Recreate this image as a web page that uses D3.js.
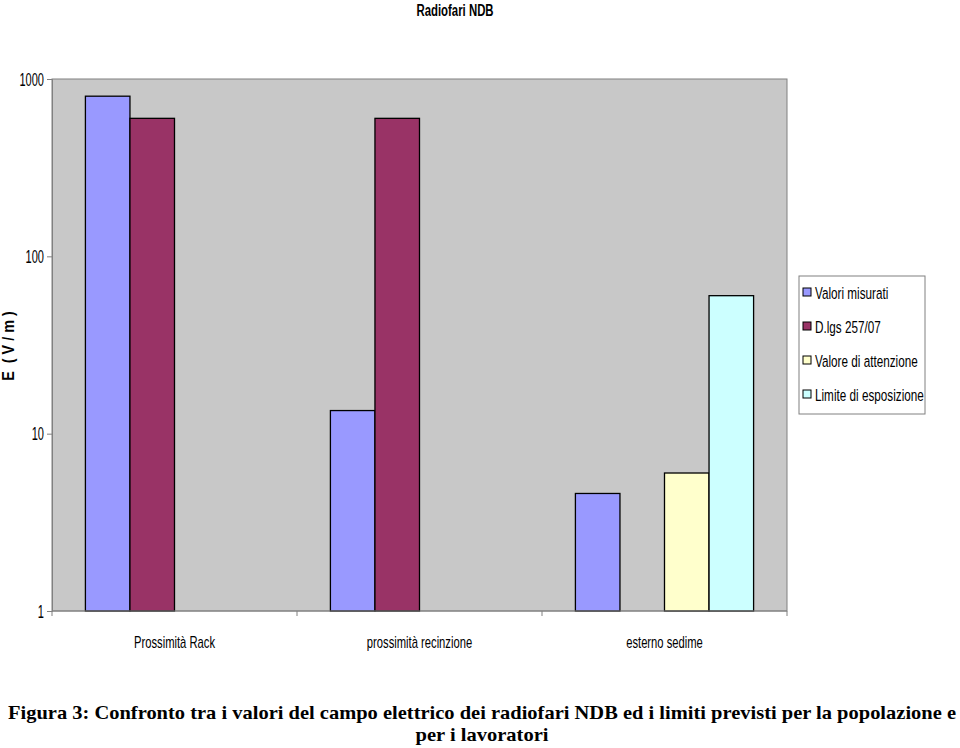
<!DOCTYPE html>
<html>
<head>
<meta charset="utf-8">
<script src="https://cdn.jsdelivr.net/npm/d3@7"></script>
<style>
body { margin: 0; background: #fff; }
</style>
</head>
<body>
<script>
var categories = ["Prossimità Rack", "prossimità recinzione", "esterno sedime"];
var seriesNames = ["Valori misurati", "D.lgs 257/07", "Valore di attenzione", "Limite di esposizione"];
var colors = ["#9999FF", "#993366", "#FFFFCC", "#CCFFFF"];
// null = no bar
var valoriMisurati = [800, 13.5, 4.6];
var dlgs = [600, 600, null];
var valoreAttenzione = [null, null, 6];
var limiteEsposizione = [null, null, 60];
var yTicks = [1, 10, 100, 1000];

(function() {
var series = [valoriMisurati, dlgs, valoreAttenzione, limiteEsposizione];

var w = 960, h = 748;
var sans = "'Liberation Sans', Arial, sans-serif";

var svg = d3.select("body").append("svg")
  .attr("width", w)
  .attr("height", h);

var pl = 52, pr = 787, pt = 79, pb = 611;

// narrow text: Arial Narrow look via horizontal squeeze
function narrowText(g, x, yy, str, size, sx, anchor, weight) {
  var t = g.append("g").attr("transform", "translate(" + x + "," + yy + ") scale(" + sx + ",1)")
    .append("text")
    .attr("text-anchor", anchor || "start")
    .attr("font-family", sans).attr("font-size", size)
    .text(str);
  if (weight) t.attr("font-weight", weight);
  return t;
}

var x0 = d3.scaleBand().domain(categories).range([pl, pr]);
var x1 = d3.scaleBand().domain(d3.range(4)).range([0, x0.bandwidth()]).paddingOuter(0.75);
var y = d3.scaleLog().domain([1, 1000]).range([pb, pt]);

// plot area
svg.append("rect")
  .attr("x", pl).attr("y", pt)
  .attr("width", pr - pl).attr("height", pb - pt)
  .attr("fill", "#C8C8C8")
  .attr("stroke", "#808080").attr("stroke-width", 1);

// bars
series.forEach(function(vals, s) {
  svg.append("g").selectAll("rect")
    .data(vals.map(function(v, i) { return {v: v, c: categories[i]}; }).filter(function(d) { return d.v != null; }))
    .enter().append("rect")
    .attr("x", function(d) { return x0(d.c) + x1(s); })
    .attr("y", function(d) { return y(d.v); })
    .attr("width", x1.bandwidth())
    .attr("height", function(d) { return pb - y(d.v); })
    .attr("fill", colors[s])
    .attr("stroke", "#000").attr("stroke-width", 1.3);
});

// y axis
var yAxis = svg.append("g")
  .attr("transform", "translate(" + pl + ",0)")
  .call(d3.axisLeft(y).tickValues(yTicks).tickFormat(d3.format("d")).tickSize(5).tickPadding(6));
yAxis.select(".domain").attr("stroke", "#808080");
yAxis.selectAll(".tick line").attr("stroke", "#808080");
yAxis.selectAll(".tick text").remove();
yAxis.selectAll(".tick").each(function(d) {
  narrowText(d3.select(this), -8, 6, d3.format("d")(d), 17.5, 0.63, "end").attr("fill", "#000");
});

// x axis
var xAxis = svg.append("g")
  .attr("transform", "translate(0," + pb + ")");
xAxis.append("line").attr("x1", pl).attr("x2", pr).attr("stroke", "#808080");
xAxis.selectAll(".tk")
  .data(d3.range(categories.length + 1))
  .enter().append("line")
  .attr("x1", function(i) { return pl + i * x0.step(); })
  .attr("x2", function(i) { return pl + i * x0.step(); })
  .attr("y1", 0).attr("y2", 5)
  .attr("stroke", "#808080");
categories.forEach(function(c) {
  narrowText(xAxis, x0(c) + x0.bandwidth() / 2, 37, c, 17, 0.66, "middle");
});

// title
narrowText(svg, 455, 16, "Radiofari NDB", 17, 0.67, "middle", "bold");

// y label
svg.append("g").attr("transform", "translate(14,346) rotate(-90) scale(0.9,1)")
  .append("text")
  .attr("text-anchor", "middle")
  .attr("font-family", sans).attr("font-size", 16).attr("font-weight", "bold")
  .attr("xml:space", "preserve")
  .text("E  ( V / m )");

// legend
var lg = svg.append("g").attr("transform", "translate(799,276)");
lg.append("rect").attr("width", 126).attr("height", 138)
  .attr("fill", "#fff").attr("stroke", "#808080");
seriesNames.forEach(function(n, i) {
  var yy = 18 + i * 34;
  lg.append("rect").attr("x", 4).attr("y", yy - 6).attr("width", 8).attr("height", 8)
    .attr("fill", colors[i]).attr("stroke", "#000");
  narrowText(lg, 16, yy + 5, n, 17, 0.69, "start");
});

// caption
var serif = "'Liberation Serif', 'Times New Roman', serif";
svg.append("text")
  .attr("x", 482).attr("y", 719)
  .attr("text-anchor", "middle")
  .attr("font-family", serif)
  .attr("font-size", 19).attr("font-weight", "bold")
  .attr("textLength", 948).attr("lengthAdjust", "spacingAndGlyphs")
  .text("Figura 3: Confronto tra i valori del campo elettrico dei radiofari NDB ed i limiti previsti per la popolazione e");
svg.append("text")
  .attr("x", 482).attr("y", 741)
  .attr("text-anchor", "middle")
  .attr("font-family", serif)
  .attr("font-size", 19).attr("font-weight", "bold")
  .attr("textLength", 133).attr("lengthAdjust", "spacingAndGlyphs")
  .text("per i lavoratori");
})();
</script>
</body>
</html>
